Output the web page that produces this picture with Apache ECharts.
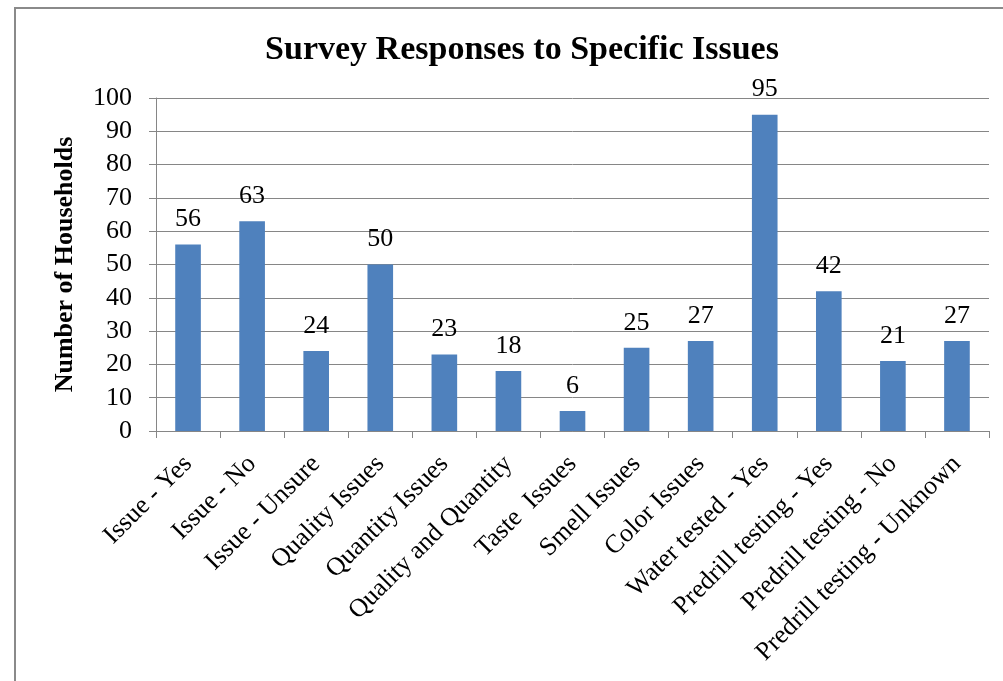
<!DOCTYPE html>
<html>
<head>
<meta charset="utf-8">
<script src="https://cdn.jsdelivr.net/npm/echarts@6/dist/echarts.min.js"></script>
<style>
  html, body { margin: 0; padding: 0; background: #ffffff; }
  #chart { width: 1003px; height: 681px; }
</style>
</head>
<body>
<div id="chart"></div>
<script>
// Survey categories and household counts
const categories = [
  'Issue - Yes', 'Issue - No', 'Issue - Unsure', 'Quality Issues',
  'Quantity Issues', 'Quality and Quantity', 'Taste  Issues', 'Smell Issues',
  'Color Issues', 'Water tested - Yes', 'Predrill testing - Yes',
  'Predrill testing - No', 'Predrill testing - Unknown'
];
const households = [56, 63, 24, 50, 23, 18, 6, 25, 27, 95, 42, 21, 27];
const yTicks = { min: 0, max: 100, interval: 10 };

const serif = '"Liberation Serif", "Times New Roman", serif';
const gridColor = '#868686';

const chart = echarts.init(document.getElementById('chart'));
chart.setOption({
  backgroundColor: '#ffffff',
  animation: false,
  title: {
    text: 'Survey Responses to Specific Issues',
    left: 517,
    top: 28,
    textAlign: 'center',
    textStyle: { fontFamily: serif, fontSize: 34, fontWeight: 'bold', color: '#000' }
  },
  graphic: [{
    type: 'rect',
    shape: { x: 15, y: 8, width: 1020, height: 720 },
    style: { fill: 'none', stroke: '#8a8a8a', lineWidth: 2 },
    silent: true,
    z: -1
  }],
  grid: { left: 156, right: 14, top: 98, bottom: 250 },
  xAxis: {
    type: 'category',
    data: categories,
    boundaryGap: true,
    axisLine: { lineStyle: { color: gridColor, width: 1 } },
    axisTick: { show: true, alignWithLabel: false, length: 7, lineStyle: { color: gridColor } },
    axisLabel: {
      interval: 0,
      rotate: 45,
      margin: 29,
      fontFamily: serif,
      fontSize: 26,
      color: '#000'
    }
  },
  yAxis: {
    type: 'value',
    min: yTicks.min,
    max: yTicks.max,
    interval: yTicks.interval,
    name: 'Number of Households',
    nameLocation: 'middle',
    nameGap: 78,
    nameTextStyle: { fontFamily: serif, fontSize: 26, fontWeight: 'bold', color: '#000' },
    axisLine: { show: true, lineStyle: { color: gridColor, width: 1 } },
    axisTick: { show: true, length: 7, lineStyle: { color: gridColor } },
    axisLabel: { margin: 24, fontFamily: serif, fontSize: 26, color: '#000' },
    splitLine: { show: true, lineStyle: { color: gridColor, width: 1 } }
  },
  series: [{
    type: 'bar',
    data: households,
    barWidth: '40%',
    itemStyle: { color: '#4F81BD' },
    label: {
      show: true,
      position: 'top',
      distance: 12,
      fontFamily: serif,
      fontSize: 26,
      color: '#000'
    }
  }]
});
</script>
</body>
</html>
